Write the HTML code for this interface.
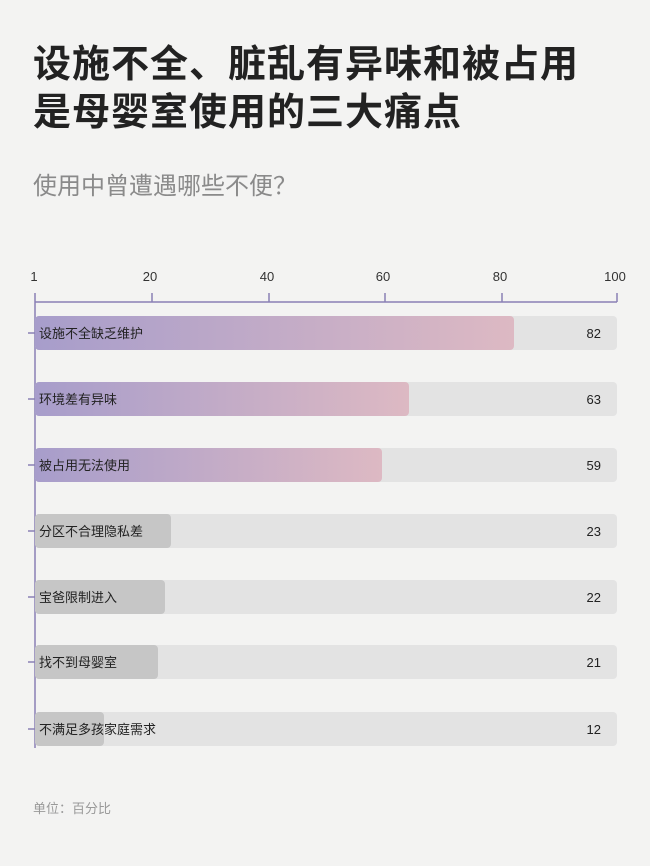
<!DOCTYPE html>
<html><head><meta charset="utf-8"><style>
body{margin:0;width:650px;height:866px;background:#f3f3f2;font-family:"Liberation Sans","Noto Sans CJK SC",sans-serif;position:relative;overflow:hidden}
.t{position:absolute;left:33px;top:41px;font-size:38px;font-weight:bold;line-height:48px;color:#222;letter-spacing:1px}
.s{position:absolute;left:33px;top:166px;font-size:24px;color:#8a8a8a}
.f{position:absolute;left:33px;top:798px;font-size:13px;color:#999}
</style></head><body>
<div class="t">设施不全、脏乱有异味和被占用<br>是母婴室使用的三大痛点</div>
<div class="s">使用中曾遭遇哪些不便？</div>
<svg width="650" height="866" style="position:absolute;left:0;top:0" font-family="Liberation Sans, Noto Sans CJK SC, sans-serif">
<defs><linearGradient id="g" x1="0" x2="1"><stop offset="0" stop-color="#a79dcb"/><stop offset="1" stop-color="#ddb9c3"/></linearGradient></defs>
<g font-size="13" fill="#333" text-anchor="middle">
<text x="34" y="281">1</text><text x="150" y="281">20</text><text x="267" y="281">40</text><text x="383" y="281">60</text><text x="500" y="281">80</text><text x="615" y="281">100</text></g>
<g stroke="#8a80b5" stroke-width="1.5" fill="none">
<line x1="35" y1="302" x2="617" y2="302"/>
<line x1="35" y1="293" x2="35" y2="748"/>
<line x1="152" y1="293" x2="152" y2="302"/><line x1="269" y1="293" x2="269" y2="302"/><line x1="385" y1="293" x2="385" y2="302"/><line x1="502" y1="293" x2="502" y2="302"/><line x1="617" y1="293" x2="617" y2="302"/>
<line x1="28" y1="333" x2="35" y2="333"/><line x1="28" y1="399" x2="35" y2="399"/><line x1="28" y1="465" x2="35" y2="465"/><line x1="28" y1="531" x2="35" y2="531"/><line x1="28" y1="597" x2="35" y2="597"/><line x1="28" y1="662" x2="35" y2="662"/><line x1="28" y1="729" x2="35" y2="729"/>
</g>
<g font-size="13" fill="#222">
<rect x="35" y="316" width="582" height="34" rx="4" fill="#e3e3e3"/><rect x="35" y="316" width="479" height="34" rx="4" fill="url(#g)"/><text x="39" y="338">设施不全缺乏维护</text><text x="601" y="338" text-anchor="end">82</text>
<rect x="35" y="382" width="582" height="34" rx="4" fill="#e3e3e3"/><rect x="35" y="382" width="374" height="34" rx="4" fill="url(#g)"/><text x="39" y="404">环境差有异味</text><text x="601" y="404" text-anchor="end">63</text>
<rect x="35" y="448" width="582" height="34" rx="4" fill="#e3e3e3"/><rect x="35" y="448" width="347" height="34" rx="4" fill="url(#g)"/><text x="39" y="470">被占用无法使用</text><text x="601" y="470" text-anchor="end">59</text>
<rect x="35" y="514" width="582" height="34" rx="4" fill="#e3e3e3"/><rect x="35" y="514" width="136" height="34" rx="4" fill="#c6c6c6"/><text x="39" y="536">分区不合理隐私差</text><text x="601" y="536" text-anchor="end">23</text>
<rect x="35" y="580" width="582" height="34" rx="4" fill="#e3e3e3"/><rect x="35" y="580" width="130" height="34" rx="4" fill="#c6c6c6"/><text x="39" y="602">宝爸限制进入</text><text x="601" y="602" text-anchor="end">22</text>
<rect x="35" y="645" width="582" height="34" rx="4" fill="#e3e3e3"/><rect x="35" y="645" width="123" height="34" rx="4" fill="#c6c6c6"/><text x="39" y="667">找不到母婴室</text><text x="601" y="667" text-anchor="end">21</text>
<rect x="35" y="712" width="582" height="34" rx="4" fill="#e3e3e3"/><rect x="35" y="712" width="69" height="34" rx="4" fill="#c6c6c6"/><text x="39" y="734">不满足多孩家庭需求</text><text x="601" y="734" text-anchor="end">12</text>
</g>
</svg>
<div class="f">单位：百分比</div>
</body></html>
